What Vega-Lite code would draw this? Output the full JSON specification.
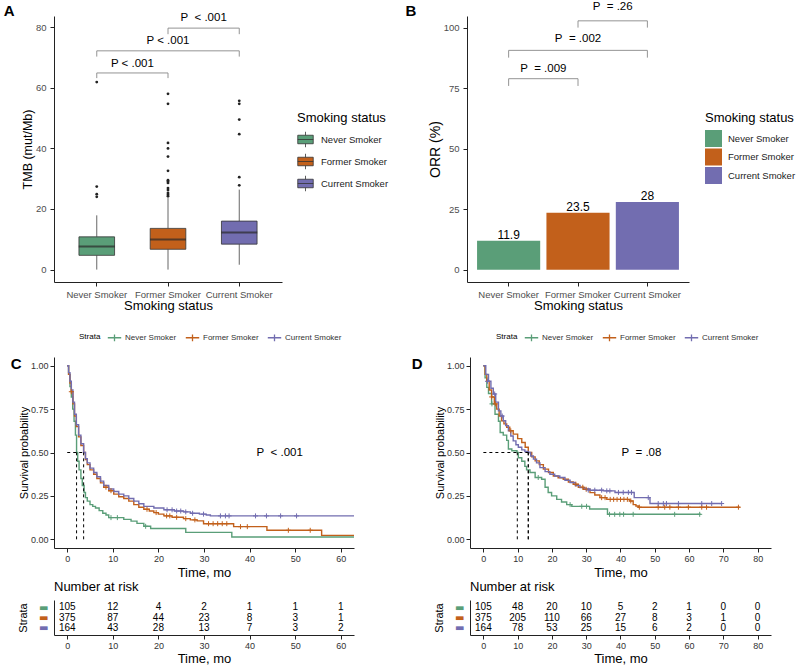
{
"$schema": "https://vega.github.io/schema/vega-lite/v6.json",
"padding": {"left": 3, "top": 0, "right": 0, "bottom": 0},
"background": "white",
"config": {
 "font": "Liberation Sans",
 "view": {"stroke": null},
 "axis": {"grid": false, "domainColor": "#222", "domainWidth": 1, "tickColor": "#222", "tickSize": 4, "labelPadding": 4, "titlePadding": 1, "labelFontSize": 9.5, "labelColor": "#4d4d4d", "titleFontWeight": "normal", "titleColor": "#000"},
 "legend": {"titleFontWeight": "normal", "titleColor": "#000"},
 "title": {"fontWeight": "bold", "color": "#000"}
},
"datasets": {
 "boxA": [
  {"group": "Never Smoker", "lower": 0, "q1": 4.7, "median": 7.6, "q3": 10.8, "upper": 17.9},
  {"group": "Former Smoker", "lower": 0, "q1": 6.7, "median": 9.9, "q3": 13.6, "upper": 23.6},
  {"group": "Current Smoker", "lower": 1.6, "q1": 8.4, "median": 12.2, "q3": 16.0, "upper": 26.4}
 ],
 "outA": [
  {"group": "Never Smoker", "tmb": 24.0}, {"group": "Never Smoker", "tmb": 24.9}, {"group": "Never Smoker", "tmb": 27.4}, {"group": "Never Smoker", "tmb": 61.9},
  {"group": "Former Smoker", "tmb": 24.2}, {"group": "Former Smoker", "tmb": 24.7}, {"group": "Former Smoker", "tmb": 25.3}, {"group": "Former Smoker", "tmb": 26.3}, {"group": "Former Smoker", "tmb": 26.9}, {"group": "Former Smoker", "tmb": 28.6}, {"group": "Former Smoker", "tmb": 29.1}, {"group": "Former Smoker", "tmb": 29.5}, {"group": "Former Smoker", "tmb": 32.6}, {"group": "Former Smoker", "tmb": 37.3}, {"group": "Former Smoker", "tmb": 40.0}, {"group": "Former Smoker", "tmb": 41.8}, {"group": "Former Smoker", "tmb": 54.7}, {"group": "Former Smoker", "tmb": 58.0},
  {"group": "Current Smoker", "tmb": 27.8}, {"group": "Current Smoker", "tmb": 30.5}, {"group": "Current Smoker", "tmb": 44.7}, {"group": "Current Smoker", "tmb": 49.5}, {"group": "Current Smoker", "tmb": 54.7}, {"group": "Current Smoker", "tmb": 55.7}
 ],
 "brA": [
  {"group": "Never Smoker", "group2": "Former Smoker", "y": 64.9},
  {"group": "Never Smoker", "group2": "Current Smoker", "y": 72.2},
  {"group": "Former Smoker", "group2": "Current Smoker", "y": 79.7}
 ],
 "legA": [
  {"group": "Never Smoker", "ylo": 63.2, "yhi": 64.9}, {"group": "Former Smoker", "ylo": 63.2, "yhi": 64.9},
  {"group": "Never Smoker", "ylo": 70.3, "yhi": 72.2}, {"group": "Current Smoker", "ylo": 70.3, "yhi": 72.2},
  {"group": "Former Smoker", "ylo": 77.7, "yhi": 79.7}, {"group": "Current Smoker", "ylo": 77.7, "yhi": 79.7}
 ],
 "labAedge": [
  {"group": "Never Smoker", "y": 68.0, "label": "P < .001"},
  {"group": "Former Smoker", "y": 83.2, "label": "P\u00a0 < .001"}
 ],
 "labAmid": [
  {"group": "Former Smoker", "y": 75.3, "label": "P < .001"}
 ],
 "barsB": [
  {"group": "Never Smoker", "orr": 11.9}, {"group": "Former Smoker", "orr": 23.5}, {"group": "Current Smoker", "orr": 28}
 ],
 "brB": [
  {"group": "Never Smoker", "group2": "Former Smoker", "y": 78.9},
  {"group": "Never Smoker", "group2": "Current Smoker", "y": 90.6},
  {"group": "Former Smoker", "group2": "Current Smoker", "y": 102.8}
 ],
 "legB": [
  {"group": "Never Smoker", "ylo": 75.9, "yhi": 78.9}, {"group": "Former Smoker", "ylo": 75.9, "yhi": 78.9},
  {"group": "Never Smoker", "ylo": 87.6, "yhi": 90.6}, {"group": "Current Smoker", "ylo": 87.6, "yhi": 90.6},
  {"group": "Former Smoker", "ylo": 100, "yhi": 102.8}, {"group": "Current Smoker", "ylo": 100, "yhi": 102.8}
 ],
 "labBedge": [
  {"group": "Never Smoker", "y": 82.8, "label": "P\u00a0 = .009"},
  {"group": "Former Smoker", "y": 108.6, "label": "P\u00a0 = .26"}
 ],
 "labBmid": [
  {"group": "Former Smoker", "y": 95.2, "label": "P\u00a0 = .002"}
 ],
 "kmC": [
  {"group":"Never Smoker","t":0,"s":1},{"group":"Never Smoker","t":0.3,"s":0.95},{"group":"Never Smoker","t":0.6,"s":0.88},{"group":"Never Smoker","t":0.9,"s":0.82},{"group":"Never Smoker","t":1.2,"s":0.75},{"group":"Never Smoker","t":1.5,"s":0.68},{"group":"Never Smoker","t":1.8,"s":0.6},{"group":"Never Smoker","t":2.05,"s":0.5},{"group":"Never Smoker","t":2.3,"s":0.45},{"group":"Never Smoker","t":2.6,"s":0.4},{"group":"Never Smoker","t":3.0,"s":0.35},{"group":"Never Smoker","t":3.3,"s":0.31},{"group":"Never Smoker","t":3.7,"s":0.27},{"group":"Never Smoker","t":4.0,"s":0.24},{"group":"Never Smoker","t":4.4,"s":0.22},{"group":"Never Smoker","t":5.0,"s":0.2},{"group":"Never Smoker","t":5.6,"s":0.19},{"group":"Never Smoker","t":6.2,"s":0.18},{"group":"Never Smoker","t":7.0,"s":0.165},{"group":"Never Smoker","t":7.8,"s":0.15},{"group":"Never Smoker","t":8.5,"s":0.14},{"group":"Never Smoker","t":9.1,"s":0.125},{"group":"Never Smoker","t":12.4,"s":0.115},{"group":"Never Smoker","t":14.0,"s":0.105},{"group":"Never Smoker","t":15.3,"s":0.092},{"group":"Never Smoker","t":16.8,"s":0.075},{"group":"Never Smoker","t":18.3,"s":0.062},{"group":"Never Smoker","t":26.0,"s":0.04},{"group":"Never Smoker","t":36.1,"s":0.013},{"group":"Never Smoker","t":62.9,"s":0.013},
  {"group":"Former Smoker","t":0,"s":1},{"group":"Former Smoker","t":0.3,"s":0.95},{"group":"Former Smoker","t":0.6,"s":0.9},{"group":"Former Smoker","t":0.9,"s":0.85},{"group":"Former Smoker","t":1.25,"s":0.78},{"group":"Former Smoker","t":1.6,"s":0.71},{"group":"Former Smoker","t":2.0,"s":0.65},{"group":"Former Smoker","t":2.5,"s":0.59},{"group":"Former Smoker","t":3.0,"s":0.54},{"group":"Former Smoker","t":3.6,"s":0.5},{"group":"Former Smoker","t":4.0,"s":0.46},{"group":"Former Smoker","t":4.4,"s":0.43},{"group":"Former Smoker","t":5.0,"s":0.4},{"group":"Former Smoker","t":5.8,"s":0.375},{"group":"Former Smoker","t":6.5,"s":0.35},{"group":"Former Smoker","t":7.3,"s":0.325},{"group":"Former Smoker","t":8.0,"s":0.3},{"group":"Former Smoker","t":9.1,"s":0.28},{"group":"Former Smoker","t":10.2,"s":0.26},{"group":"Former Smoker","t":11.3,"s":0.245},{"group":"Former Smoker","t":12.4,"s":0.235},{"group":"Former Smoker","t":13.5,"s":0.22},{"group":"Former Smoker","t":14.6,"s":0.2},{"group":"Former Smoker","t":15.7,"s":0.185},{"group":"Former Smoker","t":16.8,"s":0.173},{"group":"Former Smoker","t":18.0,"s":0.163},{"group":"Former Smoker","t":19.0,"s":0.154},{"group":"Former Smoker","t":20.0,"s":0.145},{"group":"Former Smoker","t":21.2,"s":0.135},{"group":"Former Smoker","t":23.0,"s":0.127},{"group":"Former Smoker","t":25.5,"s":0.119},{"group":"Former Smoker","t":27.0,"s":0.112},{"group":"Former Smoker","t":28.5,"s":0.106},{"group":"Former Smoker","t":29.9,"s":0.09},{"group":"Former Smoker","t":36.5,"s":0.073},{"group":"Former Smoker","t":43.8,"s":0.052},{"group":"Former Smoker","t":55.8,"s":0.023},{"group":"Former Smoker","t":62.9,"s":0.023},
  {"group":"Current Smoker","t":0,"s":1},{"group":"Current Smoker","t":0.3,"s":0.96},{"group":"Current Smoker","t":0.6,"s":0.91},{"group":"Current Smoker","t":0.9,"s":0.86},{"group":"Current Smoker","t":1.25,"s":0.79},{"group":"Current Smoker","t":1.6,"s":0.72},{"group":"Current Smoker","t":2.0,"s":0.66},{"group":"Current Smoker","t":2.5,"s":0.6},{"group":"Current Smoker","t":3.0,"s":0.55},{"group":"Current Smoker","t":3.6,"s":0.5},{"group":"Current Smoker","t":4.0,"s":0.465},{"group":"Current Smoker","t":4.4,"s":0.44},{"group":"Current Smoker","t":5.0,"s":0.41},{"group":"Current Smoker","t":5.8,"s":0.385},{"group":"Current Smoker","t":6.5,"s":0.36},{"group":"Current Smoker","t":7.3,"s":0.335},{"group":"Current Smoker","t":8.0,"s":0.31},{"group":"Current Smoker","t":9.1,"s":0.29},{"group":"Current Smoker","t":10.2,"s":0.275},{"group":"Current Smoker","t":11.3,"s":0.26},{"group":"Current Smoker","t":12.4,"s":0.25},{"group":"Current Smoker","t":13.5,"s":0.235},{"group":"Current Smoker","t":14.6,"s":0.22},{"group":"Current Smoker","t":15.7,"s":0.205},{"group":"Current Smoker","t":16.8,"s":0.19},{"group":"Current Smoker","t":19.0,"s":0.18},{"group":"Current Smoker","t":21.2,"s":0.17},{"group":"Current Smoker","t":23.5,"s":0.163},{"group":"Current Smoker","t":25.5,"s":0.158},{"group":"Current Smoker","t":27.0,"s":0.15},{"group":"Current Smoker","t":29.0,"s":0.145},{"group":"Current Smoker","t":30.5,"s":0.14},{"group":"Current Smoker","t":31.4,"s":0.135},{"group":"Current Smoker","t":62.9,"s":0.135}
 ],
 "cenC": [
  {"group":"Never Smoker","t":9.6,"s":0.125},{"group":"Never Smoker","t":11.0,"s":0.125},{"group":"Never Smoker","t":17.2,"s":0.075},
  {"group":"Former Smoker","t":0.9,"s":0.85},{"group":"Former Smoker","t":8.5,"s":0.3},{"group":"Former Smoker","t":9.6,"s":0.28},{"group":"Former Smoker","t":17.5,"s":0.173},{"group":"Former Smoker","t":19.5,"s":0.154},{"group":"Former Smoker","t":21.8,"s":0.135},{"group":"Former Smoker","t":22.5,"s":0.135},{"group":"Former Smoker","t":24.0,"s":0.127},{"group":"Former Smoker","t":26.0,"s":0.119},{"group":"Former Smoker","t":28.0,"s":0.112},{"group":"Former Smoker","t":31.0,"s":0.09},{"group":"Former Smoker","t":32.0,"s":0.09},{"group":"Former Smoker","t":33.0,"s":0.09},{"group":"Former Smoker","t":34.0,"s":0.09},{"group":"Former Smoker","t":35.0,"s":0.09},{"group":"Former Smoker","t":38.0,"s":0.073},{"group":"Former Smoker","t":39.5,"s":0.073},{"group":"Former Smoker","t":48.5,"s":0.052},{"group":"Former Smoker","t":53.3,"s":0.052},
  {"group":"Current Smoker","t":21.9,"s":0.17},{"group":"Current Smoker","t":23.0,"s":0.17},{"group":"Current Smoker","t":24.0,"s":0.163},{"group":"Current Smoker","t":24.9,"s":0.163},{"group":"Current Smoker","t":26.0,"s":0.158},{"group":"Current Smoker","t":27.5,"s":0.15},{"group":"Current Smoker","t":29.9,"s":0.145},{"group":"Current Smoker","t":33.6,"s":0.135},{"group":"Current Smoker","t":34.7,"s":0.135},{"group":"Current Smoker","t":35.5,"s":0.135},{"group":"Current Smoker","t":41.3,"s":0.135},{"group":"Current Smoker","t":43.7,"s":0.135},{"group":"Current Smoker","t":46.8,"s":0.135},{"group":"Current Smoker","t":50.3,"s":0.135}
 ],
 "medC": [
  {"t": 0, "t2": 3.6, "s": 0.5, "s2": 0.5},
  {"t": 2.05, "t2": 2.05, "s": 0, "s2": 0.5},
  {"t": 3.6, "t2": 3.6, "s": 0, "s2": 0.5}
 ],
 "pC": [{"t": 46.6, "s": 0.5, "label": "P\u00a0 < .001"}],
 "riskC": [
  {"group":"Never Smoker","t":0,"n":105},{"group":"Never Smoker","t":10,"n":12},{"group":"Never Smoker","t":20,"n":4},{"group":"Never Smoker","t":30,"n":2},{"group":"Never Smoker","t":40,"n":1},{"group":"Never Smoker","t":50,"n":1},{"group":"Never Smoker","t":60,"n":1},
  {"group":"Former Smoker","t":0,"n":375},{"group":"Former Smoker","t":10,"n":87},{"group":"Former Smoker","t":20,"n":44},{"group":"Former Smoker","t":30,"n":23},{"group":"Former Smoker","t":40,"n":8},{"group":"Former Smoker","t":50,"n":3},{"group":"Former Smoker","t":60,"n":1},
  {"group":"Current Smoker","t":0,"n":164},{"group":"Current Smoker","t":10,"n":43},{"group":"Current Smoker","t":20,"n":28},{"group":"Current Smoker","t":30,"n":13},{"group":"Current Smoker","t":40,"n":7},{"group":"Current Smoker","t":50,"n":3},{"group":"Current Smoker","t":60,"n":2}
 ],
 "kmD": [
  {"group":"Never Smoker","t":0,"s":1},{"group":"Never Smoker","t":0.5,"s":0.93},{"group":"Never Smoker","t":1.0,"s":0.875},{"group":"Never Smoker","t":1.5,"s":0.84},{"group":"Never Smoker","t":2.4,"s":0.78},{"group":"Never Smoker","t":3.4,"s":0.72},{"group":"Never Smoker","t":4.4,"s":0.68},{"group":"Never Smoker","t":4.9,"s":0.615},{"group":"Never Smoker","t":5.8,"s":0.6},{"group":"Never Smoker","t":6.8,"s":0.57},{"group":"Never Smoker","t":7.3,"s":0.52},{"group":"Never Smoker","t":8.3,"s":0.51},{"group":"Never Smoker","t":9.8,"s":0.5},{"group":"Never Smoker","t":10.2,"s":0.47},{"group":"Never Smoker","t":11.2,"s":0.45},{"group":"Never Smoker","t":12.1,"s":0.42},{"group":"Never Smoker","t":12.6,"s":0.4},{"group":"Never Smoker","t":13.6,"s":0.385},{"group":"Never Smoker","t":15.1,"s":0.356},{"group":"Never Smoker","t":17.0,"s":0.346},{"group":"Never Smoker","t":18.0,"s":0.3},{"group":"Never Smoker","t":18.9,"s":0.27},{"group":"Never Smoker","t":19.9,"s":0.25},{"group":"Never Smoker","t":21.4,"s":0.23},{"group":"Never Smoker","t":22.8,"s":0.215},{"group":"Never Smoker","t":24.3,"s":0.2},{"group":"Never Smoker","t":25.8,"s":0.19},{"group":"Never Smoker","t":31.0,"s":0.175},{"group":"Never Smoker","t":36.2,"s":0.144},{"group":"Never Smoker","t":63.4,"s":0.144},
  {"group":"Former Smoker","t":0,"s":1},{"group":"Former Smoker","t":0.5,"s":0.95},{"group":"Former Smoker","t":1.0,"s":0.91},{"group":"Former Smoker","t":1.7,"s":0.86},{"group":"Former Smoker","t":2.4,"s":0.82},{"group":"Former Smoker","t":3.2,"s":0.78},{"group":"Former Smoker","t":3.9,"s":0.75},{"group":"Former Smoker","t":4.6,"s":0.71},{"group":"Former Smoker","t":5.3,"s":0.683},{"group":"Former Smoker","t":6.0,"s":0.665},{"group":"Former Smoker","t":6.8,"s":0.645},{"group":"Former Smoker","t":7.7,"s":0.625},{"group":"Former Smoker","t":8.7,"s":0.606},{"group":"Former Smoker","t":10.0,"s":0.58},{"group":"Former Smoker","t":11.2,"s":0.558},{"group":"Former Smoker","t":12.2,"s":0.53},{"group":"Former Smoker","t":13.1,"s":0.5},{"group":"Former Smoker","t":14.1,"s":0.475},{"group":"Former Smoker","t":15.1,"s":0.452},{"group":"Former Smoker","t":16.3,"s":0.43},{"group":"Former Smoker","t":17.5,"s":0.404},{"group":"Former Smoker","t":19.0,"s":0.385},{"group":"Former Smoker","t":20.4,"s":0.365},{"group":"Former Smoker","t":21.8,"s":0.355},{"group":"Former Smoker","t":23.3,"s":0.346},{"group":"Former Smoker","t":24.8,"s":0.33},{"group":"Former Smoker","t":26.2,"s":0.317},{"group":"Former Smoker","t":27.7,"s":0.3},{"group":"Former Smoker","t":29.2,"s":0.288},{"group":"Former Smoker","t":31.1,"s":0.269},{"group":"Former Smoker","t":32.5,"s":0.255},{"group":"Former Smoker","t":34.0,"s":0.24},{"group":"Former Smoker","t":36.0,"s":0.23},{"group":"Former Smoker","t":42.7,"s":0.221},{"group":"Former Smoker","t":43.7,"s":0.2},{"group":"Former Smoker","t":44.5,"s":0.192},{"group":"Former Smoker","t":45.2,"s":0.185},{"group":"Former Smoker","t":74.8,"s":0.185},
  {"group":"Current Smoker","t":0,"s":1},{"group":"Current Smoker","t":0.7,"s":0.95},{"group":"Current Smoker","t":1.5,"s":0.91},{"group":"Current Smoker","t":2.2,"s":0.87},{"group":"Current Smoker","t":2.9,"s":0.837},{"group":"Current Smoker","t":3.6,"s":0.79},{"group":"Current Smoker","t":4.4,"s":0.74},{"group":"Current Smoker","t":5.1,"s":0.71},{"group":"Current Smoker","t":5.8,"s":0.683},{"group":"Current Smoker","t":6.5,"s":0.655},{"group":"Current Smoker","t":7.3,"s":0.625},{"group":"Current Smoker","t":8.0,"s":0.595},{"group":"Current Smoker","t":8.7,"s":0.567},{"group":"Current Smoker","t":9.5,"s":0.545},{"group":"Current Smoker","t":10.2,"s":0.53},{"group":"Current Smoker","t":11.2,"s":0.515},{"group":"Current Smoker","t":12.1,"s":0.506},{"group":"Current Smoker","t":13.1,"s":0.5},{"group":"Current Smoker","t":13.8,"s":0.48},{"group":"Current Smoker","t":14.6,"s":0.462},{"group":"Current Smoker","t":15.5,"s":0.44},{"group":"Current Smoker","t":16.5,"s":0.413},{"group":"Current Smoker","t":18.0,"s":0.39},{"group":"Current Smoker","t":19.4,"s":0.375},{"group":"Current Smoker","t":20.8,"s":0.365},{"group":"Current Smoker","t":22.3,"s":0.356},{"group":"Current Smoker","t":23.8,"s":0.34},{"group":"Current Smoker","t":25.3,"s":0.327},{"group":"Current Smoker","t":26.8,"s":0.31},{"group":"Current Smoker","t":28.2,"s":0.298},{"group":"Current Smoker","t":29.6,"s":0.29},{"group":"Current Smoker","t":31.1,"s":0.283},{"group":"Current Smoker","t":35.0,"s":0.279},{"group":"Current Smoker","t":38.4,"s":0.27},{"group":"Current Smoker","t":44.0,"s":0.24},{"group":"Current Smoker","t":48.6,"s":0.206},{"group":"Current Smoker","t":69.5,"s":0.206}
 ],
 "cenD": [
  {"group":"Never Smoker","t":2.5,"s":0.78},{"group":"Never Smoker","t":16.0,"s":0.356},{"group":"Never Smoker","t":25.3,"s":0.2},{"group":"Never Smoker","t":28.7,"s":0.19},{"group":"Never Smoker","t":30.1,"s":0.19},{"group":"Never Smoker","t":36.8,"s":0.144},{"group":"Never Smoker","t":38.3,"s":0.144},{"group":"Never Smoker","t":39.8,"s":0.144},{"group":"Never Smoker","t":40.9,"s":0.144},{"group":"Never Smoker","t":43.7,"s":0.144},{"group":"Never Smoker","t":55.8,"s":0.144},{"group":"Never Smoker","t":63.1,"s":0.144},
  {"group":"Former Smoker","t":2.4,"s":0.82},{"group":"Former Smoker","t":3.5,"s":0.78},{"group":"Former Smoker","t":8.0,"s":0.625},{"group":"Former Smoker","t":27.0,"s":0.317},{"group":"Former Smoker","t":29.0,"s":0.3},{"group":"Former Smoker","t":30.0,"s":0.288},{"group":"Former Smoker","t":34.5,"s":0.24},{"group":"Former Smoker","t":35.5,"s":0.24},{"group":"Former Smoker","t":37.0,"s":0.23},{"group":"Former Smoker","t":38.0,"s":0.23},{"group":"Former Smoker","t":39.0,"s":0.23},{"group":"Former Smoker","t":40.0,"s":0.23},{"group":"Former Smoker","t":41.0,"s":0.23},{"group":"Former Smoker","t":42.0,"s":0.23},{"group":"Former Smoker","t":43.0,"s":0.221},{"group":"Former Smoker","t":45.5,"s":0.185},{"group":"Former Smoker","t":51.0,"s":0.185},{"group":"Former Smoker","t":52.9,"s":0.185},{"group":"Former Smoker","t":54.4,"s":0.185},{"group":"Former Smoker","t":56.9,"s":0.185},{"group":"Former Smoker","t":59.8,"s":0.185},{"group":"Former Smoker","t":63.7,"s":0.185},{"group":"Former Smoker","t":65.1,"s":0.185},{"group":"Former Smoker","t":74.4,"s":0.185},
  {"group":"Current Smoker","t":1.2,"s":0.91},{"group":"Current Smoker","t":3.3,"s":0.837},{"group":"Current Smoker","t":5.5,"s":0.71},{"group":"Current Smoker","t":30.6,"s":0.283},{"group":"Current Smoker","t":32.5,"s":0.283},{"group":"Current Smoker","t":34.5,"s":0.283},{"group":"Current Smoker","t":36.0,"s":0.279},{"group":"Current Smoker","t":36.9,"s":0.279},{"group":"Current Smoker","t":39.4,"s":0.27},{"group":"Current Smoker","t":40.8,"s":0.27},{"group":"Current Smoker","t":42.3,"s":0.27},{"group":"Current Smoker","t":43.2,"s":0.27},{"group":"Current Smoker","t":48.1,"s":0.24},{"group":"Current Smoker","t":51.0,"s":0.206},{"group":"Current Smoker","t":52.5,"s":0.206},{"group":"Current Smoker","t":53.4,"s":0.206},{"group":"Current Smoker","t":56.9,"s":0.206},{"group":"Current Smoker","t":63.7,"s":0.206},{"group":"Current Smoker","t":66.6,"s":0.206},{"group":"Current Smoker","t":69.5,"s":0.206}
 ],
 "medD": [
  {"t": 0, "t2": 13.1, "s": 0.5, "s2": 0.5},
  {"t": 9.9, "t2": 9.9, "s": 0, "s2": 0.5},
  {"t": 13.1, "t2": 13.1, "s": 0, "s2": 0.5},
  {"t": 13.1, "t2": 13.1, "s": 0, "s2": 0.5}
 ],
 "pD": [{"t": 46.1, "s": 0.5, "label": "P\u00a0 = .08"}],
 "riskD": [
  {"group":"Never Smoker","t":0,"n":105},{"group":"Never Smoker","t":10,"n":48},{"group":"Never Smoker","t":20,"n":20},{"group":"Never Smoker","t":30,"n":10},{"group":"Never Smoker","t":40,"n":5},{"group":"Never Smoker","t":50,"n":2},{"group":"Never Smoker","t":60,"n":1},{"group":"Never Smoker","t":70,"n":0},{"group":"Never Smoker","t":80,"n":0},
  {"group":"Former Smoker","t":0,"n":375},{"group":"Former Smoker","t":10,"n":205},{"group":"Former Smoker","t":20,"n":110},{"group":"Former Smoker","t":30,"n":66},{"group":"Former Smoker","t":40,"n":27},{"group":"Former Smoker","t":50,"n":8},{"group":"Former Smoker","t":60,"n":3},{"group":"Former Smoker","t":70,"n":1},{"group":"Former Smoker","t":80,"n":0},
  {"group":"Current Smoker","t":0,"n":164},{"group":"Current Smoker","t":10,"n":78},{"group":"Current Smoker","t":20,"n":53},{"group":"Current Smoker","t":30,"n":25},{"group":"Current Smoker","t":40,"n":15},{"group":"Current Smoker","t":50,"n":6},{"group":"Current Smoker","t":60,"n":2},{"group":"Current Smoker","t":70,"n":0},{"group":"Current Smoker","t":80,"n":0}
 ]
},
"vconcat": [
 {
  "hconcat": [
   {
    "width": 228, "height": 266,
    "title": {"text": "A", "orient": "left", "anchor": "end", "angle": 0, "align": "right", "baseline": "alphabetic", "fontSize": 15, "offset": -4, "frame": "group"},
    "encoding": {"x": {"field": "group", "type": "nominal", "title": "Smoking status", "sort": ["Never Smoker", "Former Smoker", "Current Smoker"], "scale": {"domain": ["Never Smoker", "Former Smoker", "Current Smoker"], "paddingInner": 0, "paddingOuter": 0.1}, "axis": {"labelAngle": 0, "titleFontSize": 13, "titlePadding": 1, "labelPadding": 3}}},
    "layer": [
     {"data": {"name": "boxA"}, "mark": {"type": "rule", "color": "#555", "strokeWidth": 0.9},
      "encoding": {"y": {"field": "lower", "type": "quantitative", "title": "TMB (mut/Mb)", "scale": {"domain": [-4.1, 83.7], "nice": false, "zero": false}, "axis": {"values": [0, 20, 40, 60, 80], "titleFontSize": 12.5}}, "y2": {"field": "q1"}}},
     {"data": {"name": "boxA"}, "mark": {"type": "rule", "color": "#555", "strokeWidth": 0.9},
      "encoding": {"y": {"field": "q3", "type": "quantitative", "title": "TMB (mut/Mb)", "scale": {"domain": [-4.1, 83.7], "nice": false, "zero": false}, "axis": {"values": [0, 20, 40, 60, 80], "titleFontSize": 12.5}}, "y2": {"field": "upper"}}},
     {"data": {"name": "boxA"}, "mark": {"type": "bar", "stroke": "#333", "strokeWidth": 0.8, "width": {"band": 0.5}},
      "encoding": {"y": {"field": "q1", "type": "quantitative", "title": "TMB (mut/Mb)", "scale": {"domain": [-4.1, 83.7], "nice": false, "zero": false}, "axis": {"values": [0, 20, 40, 60, 80], "titleFontSize": 12.5}}, "y2": {"field": "q3"},
       "color": {"field": "group", "type": "nominal", "scale": {"domain": ["Never Smoker", "Former Smoker", "Current Smoker"], "range": ["#5a9e78", "#c2601b", "#726db0"]},
        "legend": {"orient": "none", "legendX": 243, "legendY": 96, "title": "Smoking status", "titleFontSize": 13, "titleFontWeight": "normal", "titlePadding": 6, "labelFontSize": 9.5, "labelColor": "#222", "symbolType": "M-1,-0.55H1V0.55H-1Z M-1,0H1 M0,-0.55V-1 M0,0.55V1", "symbolSize": 240, "symbolStrokeColor": "#333", "symbolStrokeWidth": 0.8, "rowPadding": 3, "labelOffset": 7}}}},
     {"data": {"name": "boxA"}, "mark": {"type": "tick", "color": "#2a2a2a", "thickness": 2, "size": 36},
      "encoding": {"y": {"field": "median", "type": "quantitative", "title": "TMB (mut/Mb)", "scale": {"domain": [-4.1, 83.7], "nice": false, "zero": false}, "axis": {"values": [0, 20, 40, 60, 80], "titleFontSize": 12.5}}}},
     {"data": {"name": "outA"}, "mark": {"type": "circle", "color": "#222", "size": 8, "opacity": 1},
      "encoding": {"y": {"field": "tmb", "type": "quantitative", "title": "TMB (mut/Mb)", "scale": {"domain": [-4.1, 83.7], "nice": false, "zero": false}, "axis": {"values": [0, 20, 40, 60, 80], "titleFontSize": 12.5}}}},
     {"data": {"name": "brA"}, "mark": {"type": "rule", "color": "#888", "strokeWidth": 0.9},
      "encoding": {"x2": {"field": "group2"}, "y": {"field": "y", "type": "quantitative", "title": "TMB (mut/Mb)", "scale": {"domain": [-4.1, 83.7], "nice": false, "zero": false}, "axis": {"values": [0, 20, 40, 60, 80], "titleFontSize": 12.5}}}},
     {"data": {"name": "legA"}, "mark": {"type": "rule", "color": "#888", "strokeWidth": 0.9},
      "encoding": {"y": {"field": "ylo", "type": "quantitative", "title": "TMB (mut/Mb)", "scale": {"domain": [-4.1, 83.7], "nice": false, "zero": false}, "axis": {"values": [0, 20, 40, 60, 80], "titleFontSize": 12.5}}, "y2": {"field": "yhi"}}},
     {"data": {"name": "labAedge"}, "mark": {"type": "text", "fontSize": 11.5, "color": "#000"},
      "encoding": {"x": {"field": "group", "type": "nominal", "title": "Smoking status", "bandPosition": 1, "sort": ["Never Smoker", "Former Smoker", "Current Smoker"], "scale": {"domain": ["Never Smoker", "Former Smoker", "Current Smoker"], "paddingInner": 0, "paddingOuter": 0.1}, "axis": {"labelAngle": 0, "titleFontSize": 13, "titlePadding": 1, "labelPadding": 3}}, "y": {"field": "y", "type": "quantitative", "title": "TMB (mut/Mb)", "scale": {"domain": [-4.1, 83.7], "nice": false, "zero": false}, "axis": {"values": [0, 20, 40, 60, 80], "titleFontSize": 12.5}}, "text": {"field": "label"}}},
     {"data": {"name": "labAmid"}, "mark": {"type": "text", "fontSize": 11.5, "color": "#000"},
      "encoding": {"y": {"field": "y", "type": "quantitative", "title": "TMB (mut/Mb)", "scale": {"domain": [-4.1, 83.7], "nice": false, "zero": false}, "axis": {"values": [0, 20, 40, 60, 80], "titleFontSize": 12.5}}, "text": {"field": "label"}}}
    ]
   },
   {
    "width": 222, "height": 266,
    "title": {"text": "B", "orient": "left", "anchor": "end", "angle": 0, "align": "right", "baseline": "alphabetic", "fontSize": 15, "offset": 1, "frame": "group"},
    "encoding": {"x": {"field": "group", "type": "nominal", "title": "Smoking status", "sort": ["Never Smoker", "Former Smoker", "Current Smoker"], "scale": {"domain": ["Never Smoker", "Former Smoker", "Current Smoker"], "paddingInner": 0, "paddingOuter": 0.1}, "axis": {"labelAngle": 0, "titleFontSize": 13, "titlePadding": 1, "labelPadding": 3}}},
    "layer": [
     {"data": {"name": "barsB"}, "mark": {"type": "bar", "width": {"band": 0.91}},
      "encoding": {"y": {"field": "orr", "type": "quantitative", "title": "ORR (%)", "scale": {"domain": [-5.1, 104.8], "nice": false, "zero": false}, "axis": {"values": [0, 25, 50, 75, 100], "titleFontSize": 14}}, "y2": {"datum": 0},
       "color": {"field": "group", "type": "nominal", "scale": {"domain": ["Never Smoker", "Former Smoker", "Current Smoker"], "range": ["#5a9e78", "#c2601b", "#726db0"]},
        "legend": {"orient": "none", "legendX": 238, "legendY": 96, "title": "Smoking status", "titleFontSize": 13, "titleFontWeight": "normal", "titlePadding": 5, "labelFontSize": 9.5, "labelColor": "#222", "symbolType": "square", "symbolSize": 289, "symbolStrokeWidth": 0, "rowPadding": 1.5, "labelOffset": 6}}}},
     {"data": {"name": "barsB"}, "mark": {"type": "text", "fontSize": 12, "baseline": "alphabetic", "dy": -2, "color": "#000"},
      "encoding": {"y": {"field": "orr", "type": "quantitative", "title": "ORR (%)", "scale": {"domain": [-5.1, 104.8], "nice": false, "zero": false}, "axis": {"values": [0, 25, 50, 75, 100], "titleFontSize": 14}}, "text": {"field": "orr", "type": "quantitative"}}},
     {"data": {"name": "brB"}, "mark": {"type": "rule", "color": "#888", "strokeWidth": 0.9},
      "encoding": {"x2": {"field": "group2"}, "y": {"field": "y", "type": "quantitative", "title": "ORR (%)", "scale": {"domain": [-5.1, 104.8], "nice": false, "zero": false}, "axis": {"values": [0, 25, 50, 75, 100], "titleFontSize": 14}}}},
     {"data": {"name": "legB"}, "mark": {"type": "rule", "color": "#888", "strokeWidth": 0.9},
      "encoding": {"y": {"field": "ylo", "type": "quantitative", "title": "ORR (%)", "scale": {"domain": [-5.1, 104.8], "nice": false, "zero": false}, "axis": {"values": [0, 25, 50, 75, 100], "titleFontSize": 14}}, "y2": {"field": "yhi"}}},
     {"data": {"name": "labBedge"}, "mark": {"type": "text", "fontSize": 11.5, "color": "#000"},
      "encoding": {"x": {"field": "group", "type": "nominal", "title": "Smoking status", "bandPosition": 1, "sort": ["Never Smoker", "Former Smoker", "Current Smoker"], "scale": {"domain": ["Never Smoker", "Former Smoker", "Current Smoker"], "paddingInner": 0, "paddingOuter": 0.1}, "axis": {"labelAngle": 0, "titleFontSize": 13, "titlePadding": 1, "labelPadding": 3}}, "y": {"field": "y", "type": "quantitative", "title": "ORR (%)", "scale": {"domain": [-5.1, 104.8], "nice": false, "zero": false}, "axis": {"values": [0, 25, 50, 75, 100], "titleFontSize": 14}}, "text": {"field": "label"}}},
     {"data": {"name": "labBmid"}, "mark": {"type": "text", "fontSize": 11.5, "color": "#000"},
      "encoding": {"y": {"field": "y", "type": "quantitative", "title": "ORR (%)", "scale": {"domain": [-5.1, 104.8], "nice": false, "zero": false}, "axis": {"values": [0, 25, 50, 75, 100], "titleFontSize": 14}}, "text": {"field": "label"}}}
    ]
   }
  ],
  "spacing": 16,
  "resolve": {"scale": {"color": "independent"}, "legend": {"color": "independent"}}
 },
 {
  "hconcat": [
   {
    "vconcat": [
     {
      "width": 300, "height": 191,
      "title": {"text": "C", "orient": "left", "anchor": "end", "angle": 0, "align": "right", "baseline": "top", "fontSize": 15, "offset": -14, "frame": "group"},
      "encoding": {
       "x": {"field": "t", "type": "quantitative", "scale": {"domain": [-2.9, 62.9], "nice": false, "zero": false}, "axis": {"title": "Time, mo", "values": [0, 10, 20, 30, 40, 50, 60], "titleFontSize": 13, "labelColor": "#333", "labelFontSize": 9, "labelPadding": 2, "titlePadding": 3}},
       "y": {"field": "s", "type": "quantitative", "scale": {"domain": [-0.05, 1.05], "nice": false, "zero": false}, "axis": {"title": "Survival probability", "values": [0, 0.25, 0.5, 0.75, 1], "format": ".2f", "titleFontSize": 11, "labelColor": "#333", "labelFontSize": 9, "labelPadding": 2, "titlePadding": 1}}
      },
      "layer": [
       {"data": {"name": "kmC"}, "mark": {"type": "line", "interpolate": "step-after", "strokeWidth": 1.4},
        "encoding": {"color": {"field": "group", "type": "nominal", "sort": ["Never Smoker", "Former Smoker", "Current Smoker"], "scale": {"domain": ["Never Smoker", "Former Smoker", "Current Smoker"], "range": ["#5a9e78", "#c2601b", "#726db0"]},
         "legend": {"orient": "none", "legendX": 25, "legendY": -27, "direction": "horizontal", "title": "Strata", "titleOrient": "left", "titleFontSize": 8, "titleFontWeight": "normal", "titlePadding": 6, "labelFontSize": 8, "labelColor": "#333", "symbolType": "M-1,0H1M0,-0.5V0.5", "symbolSize": 180, "symbolStrokeWidth": 1.3, "columnPadding": 6, "labelOffset": 3}}}},
       {"data": {"name": "cenC"}, "mark": {"type": "point", "shape": "M-1,0H1M0,-1V1", "filled": false, "size": 25, "strokeWidth": 1, "opacity": 1},
        "encoding": {"color": {"field": "group", "type": "nominal", "scale": {"domain": ["Never Smoker", "Former Smoker", "Current Smoker"], "range": ["#5a9e78", "#c2601b", "#726db0"]}, "legend": null}}},
       {"data": {"name": "medC"}, "mark": {"type": "rule", "color": "#000", "strokeDash": [3, 3], "strokeWidth": 1},
        "encoding": {"x2": {"field": "t2"}, "y2": {"field": "s2"}}},
       {"data": {"name": "pC"}, "mark": {"type": "text", "fontSize": 11.5, "color": "#000"},
        "encoding": {"text": {"field": "label"}}}
      ]
     },
     {
      "width": 300, "height": 35,
      "title": {"text": "Number at risk", "anchor": "start", "frame": "group", "fontSize": 13, "fontWeight": "normal", "offset": 6},
      "data": {"name": "riskC"},
      "mark": {"type": "text", "fontSize": 10, "color": "#000"},
      "encoding": {
       "x": {"field": "t", "type": "quantitative", "scale": {"domain": [-2.9, 62.9], "nice": false, "zero": false}, "axis": {"title": "Time, mo", "values": [0, 10, 20, 30, 40, 50, 60], "titleFontSize": 13, "labelColor": "#333", "labelFontSize": 9, "labelPadding": 2, "titlePadding": 2}},
       "y": {"field": "group", "type": "nominal", "sort": ["Never Smoker", "Former Smoker", "Current Smoker"], "scale": {"domain": ["Never Smoker", "Former Smoker", "Current Smoker"], "padding": 0.7},
        "axis": {"title": "Strata", "titleFontSize": 11, "ticks": false, "labelExpr": "'▬'", "labelFont": "DejaVu Sans", "labelFontSize": 10, "labelPadding": 6, "titlePadding": 10,
         "labelColor": {"condition": [{"test": "datum.value === 'Never Smoker'", "value": "#5a9e78"}, {"test": "datum.value === 'Former Smoker'", "value": "#c2601b"}], "value": "#726db0"}}},
       "text": {"field": "n", "type": "quantitative"}
      }
     }
    ],
    "spacing": 2,
    "resolve": {"scale": {"color": "independent"}, "legend": {"color": "independent"}}
   },
   {
    "vconcat": [
     {
      "width": 301, "height": 191,
      "title": {"text": "D", "orient": "left", "anchor": "end", "angle": 0, "align": "right", "baseline": "top", "fontSize": 15, "offset": 1, "frame": "group"},
      "encoding": {
       "x": {"field": "t", "type": "quantitative", "scale": {"domain": [-3.9, 83.9], "nice": false, "zero": false}, "axis": {"title": "Time, mo", "values": [0, 10, 20, 30, 40, 50, 60, 70, 80], "titleFontSize": 13, "labelColor": "#333", "labelFontSize": 9, "labelPadding": 2, "titlePadding": 3}},
       "y": {"field": "s", "type": "quantitative", "scale": {"domain": [-0.05, 1.05], "nice": false, "zero": false}, "axis": {"title": "Survival probability", "values": [0, 0.25, 0.5, 0.75, 1], "format": ".2f", "titleFontSize": 11, "labelColor": "#333", "labelFontSize": 9, "labelPadding": 2, "titlePadding": 1}}
      },
      "layer": [
       {"data": {"name": "kmD"}, "mark": {"type": "line", "interpolate": "step-after", "strokeWidth": 1.4},
        "encoding": {"color": {"field": "group", "type": "nominal", "sort": ["Never Smoker", "Former Smoker", "Current Smoker"], "scale": {"domain": ["Never Smoker", "Former Smoker", "Current Smoker"], "range": ["#5a9e78", "#c2601b", "#726db0"]},
         "legend": {"orient": "none", "legendX": 26, "legendY": -27, "direction": "horizontal", "title": "Strata", "titleOrient": "left", "titleFontSize": 8, "titleFontWeight": "normal", "titlePadding": 6, "labelFontSize": 8, "labelColor": "#333", "symbolType": "M-1,0H1M0,-0.5V0.5", "symbolSize": 180, "symbolStrokeWidth": 1.3, "columnPadding": 6, "labelOffset": 3}}}},
       {"data": {"name": "cenD"}, "mark": {"type": "point", "shape": "M-1,0H1M0,-1V1", "filled": false, "size": 25, "strokeWidth": 1, "opacity": 1},
        "encoding": {"color": {"field": "group", "type": "nominal", "scale": {"domain": ["Never Smoker", "Former Smoker", "Current Smoker"], "range": ["#5a9e78", "#c2601b", "#726db0"]}, "legend": null}}},
       {"data": {"name": "medD"}, "mark": {"type": "rule", "color": "#000", "strokeDash": [3, 3], "strokeWidth": 1},
        "encoding": {"x2": {"field": "t2"}, "y2": {"field": "s2"}}},
       {"data": {"name": "pD"}, "mark": {"type": "text", "fontSize": 11.5, "color": "#000"},
        "encoding": {"text": {"field": "label"}}}
      ]
     },
     {
      "width": 301, "height": 35,
      "title": {"text": "Number at risk", "anchor": "start", "frame": "group", "fontSize": 13, "fontWeight": "normal", "offset": 6},
      "data": {"name": "riskD"},
      "mark": {"type": "text", "fontSize": 10, "color": "#000"},
      "encoding": {
       "x": {"field": "t", "type": "quantitative", "scale": {"domain": [-3.9, 83.9], "nice": false, "zero": false}, "axis": {"title": "Time, mo", "values": [0, 10, 20, 30, 40, 50, 60, 70, 80], "titleFontSize": 13, "labelColor": "#333", "labelFontSize": 9, "labelPadding": 2, "titlePadding": 2}},
       "y": {"field": "group", "type": "nominal", "sort": ["Never Smoker", "Former Smoker", "Current Smoker"], "scale": {"domain": ["Never Smoker", "Former Smoker", "Current Smoker"], "padding": 0.7},
        "axis": {"title": "Strata", "titleFontSize": 11, "ticks": false, "labelExpr": "'▬'", "labelFont": "DejaVu Sans", "labelFontSize": 10, "labelPadding": 6, "titlePadding": 10,
         "labelColor": {"condition": [{"test": "datum.value === 'Never Smoker'", "value": "#5a9e78"}, {"test": "datum.value === 'Former Smoker'", "value": "#c2601b"}], "value": "#726db0"}}},
       "text": {"field": "n", "type": "quantitative"}
      }
     }
    ],
    "spacing": 2,
    "resolve": {"scale": {"color": "independent"}, "legend": {"color": "independent"}}
   }
  ],
  "spacing": 54,
  "resolve": {"scale": {"color": "independent"}, "legend": {"color": "independent"}}
 }
],
"spacing": 17,
"resolve": {"scale": {"color": "independent"}, "legend": {"color": "independent"}}
}
